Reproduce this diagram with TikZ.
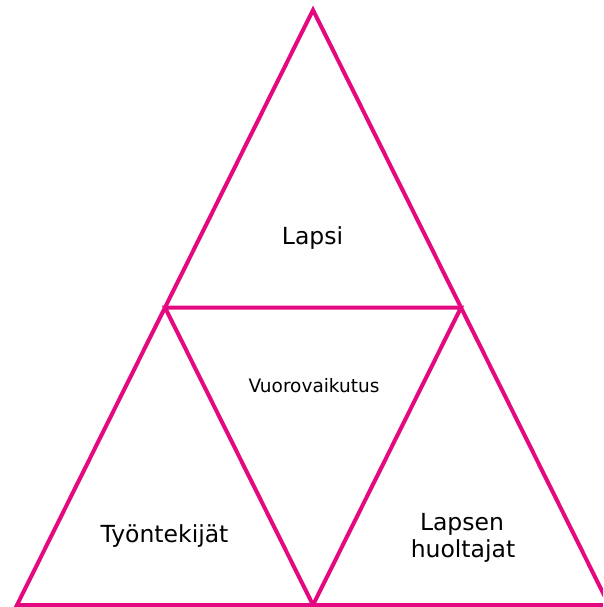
\documentclass[tikz,border=0pt]{standalone}
\usepackage{fontspec}
\setmainfont{DejaVu Sans}
\definecolor{mag}{HTML}{E5097F}
\begin{document}
\begin{tikzpicture}[x=1pt,y=-1pt,
  edge/.style={draw=mag,line width=4pt},
  lbl/.style={font=\fontsize{23.5}{27}\selectfont,align=center,inner sep=0pt},
  small/.style={font=\fontsize{18.5}{21}\selectfont,inner sep=0pt}]
\useasboundingbox (0,0) rectangle (603,607);
\coordinate (A) at (313,10);
\coordinate (L) at (17,605);
\coordinate (R) at (609,605);
\coordinate (ML) at (165,307.5);
\coordinate (MR) at (461,307.5);
\coordinate (M) at (313,605);
\begin{scope}
\clip (0,0) rectangle (603,607);
\draw[edge] (A) -- (L) -- (R) -- cycle;
\draw[edge] (ML) -- (MR) -- (M) -- cycle;
\end{scope}
\node[lbl,anchor=base] (lapsi) at (312.5,244) {Lapsi};
\node[small,anchor=base] (vuoro) at (314,392) {Vuorovaikutus};
\node[lbl,anchor=base] (tyo) at (164.5,542) {Työntekijät};
\node[lbl,anchor=base] (huol) at (462,530) {Lapsen};
\node[lbl,anchor=base] (huol2) at (463,557) {huoltajat};
\end{tikzpicture}
\end{document}
